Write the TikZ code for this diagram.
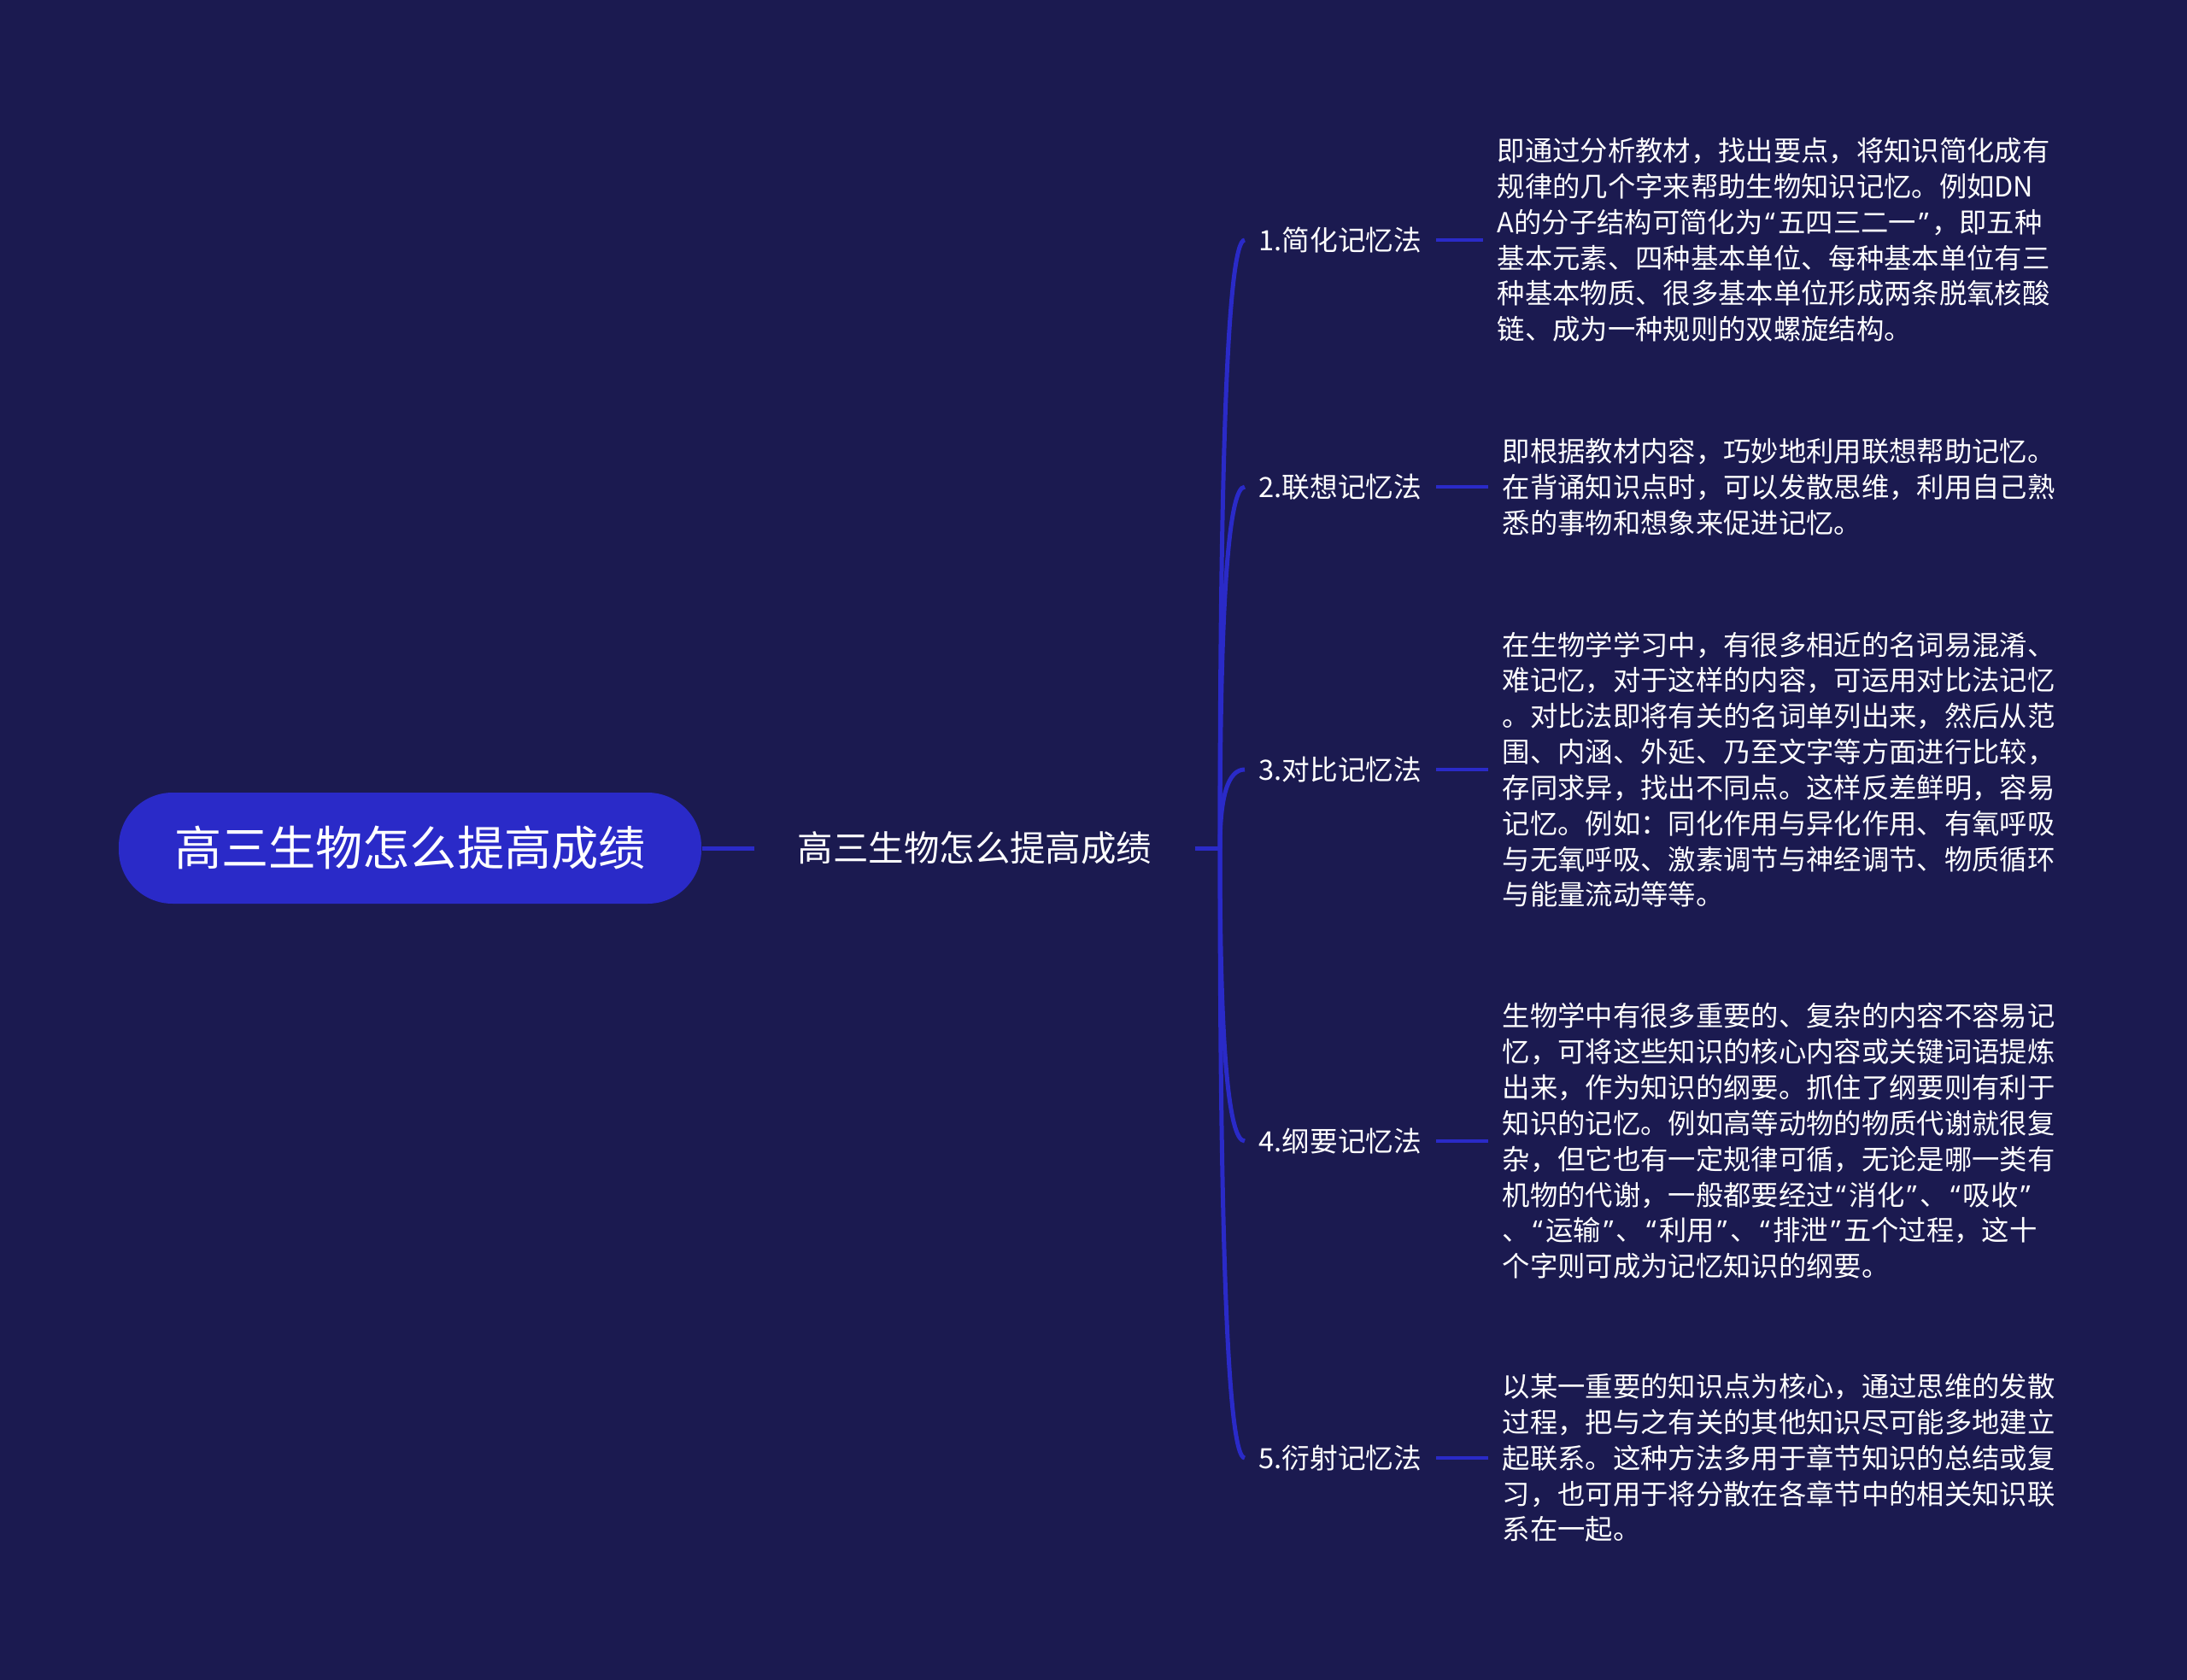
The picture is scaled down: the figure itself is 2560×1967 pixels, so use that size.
\documentclass[tikz,border=0pt]{standalone}
\usepackage{fontspec}
\setmainfont{Noto Sans CJK SC}
\newfontfamily\latinq{Noto Sans}
\newcommand{\qopen}{\kern0.1em{\latinq “}\kern0.1em}
\newcommand{\qclose}{\kern0.1em{\latinq ”}\kern0.1em}
\usepackage{tikz}
\usetikzlibrary{calc,positioning}
\definecolor{bgnavy}{RGB}{27,26,80}
\definecolor{mapblue}{RGB}{42,42,200}

\begin{document}
\begin{tikzpicture}[x=0.1mm,y=0.1mm]
\tikzstyle{every node}+=[inner sep=0pt, text=white]
\tikzstyle{rootpill}=[fill=mapblue, rounded corners=6.3mm, minimum width=68.2mm, minimum height=13mm, font=\fontsize{15.7pt}{18pt}\selectfont]
\tikzstyle{topicnode}=[inner xsep=5mm, font=\fontsize{11.8pt}{14pt}\selectfont]
\tikzstyle{methodnode}=[anchor=west, inner xsep=1.6mm, font=\fontsize{9.3pt}{11pt}\selectfont]
\tikzstyle{descnode}=[anchor=west, inner xsep=1.6mm, align=left, font=\fontsize{9.2pt}{11.9pt}\selectfont]
\tikzstyle{branch}=[draw=mapblue, line width=0.5mm]
\tikzstyle{twig}=[draw=mapblue, line width=0.4mm]
\fill [bgnavy] (0,0) rectangle (2560,-1967);
\useasboundingbox (0,0) rectangle (2560,-1967);
\node [rootpill] (root) at (480,-993) {高三生物怎么提高成绩};
\node [topicnode] (topic) at (1141,-993) {高三生物怎么提高成绩};
\coordinate (hub) at (1428,-993);
\node [methodnode] (m1) at (1457,-281) {1.简化记忆法};
\node [methodnode] (m2) at (1457,-570) {2.联想记忆法};
\node [methodnode] (m3) at (1457,-901) {3.对比记忆法};
\node [methodnode] (m4) at (1457,-1336) {4.纲要记忆法};
\node [methodnode] (m5) at (1457,-1707) {5.衍射记忆法};
\node [descnode] (d1) at (1736,-281) {即通过分析教材，找出要点，将知识简化成有\\规律的几个字来帮助生物知识记忆。例如DN\\A的分子结构可简化为\qopen 五四三二一\qclose ，即五种\\基本元素、四种基本单位、每种基本单位有三\\种基本物质、很多基本单位形成两条脱氧核酸\\链、成为一种规则的双螺旋结构。};
\node [descnode] (d2) at (1742,-570) {即根据教材内容，巧妙地利用联想帮助记忆。\\在背诵知识点时，可以发散思维，利用自己熟\\悉的事物和想象来促进记忆。};
\node [descnode] (d3) at (1742,-901) {在生物学学习中，有很多相近的名词易混淆、\\难记忆，对于这样的内容，可运用对比法记忆\\。对比法即将有关的名词单列出来，然后从范\\围、内涵、外延、乃至文字等方面进行比较，\\存同求异，找出不同点。这样反差鲜明，容易\\记忆。例如：同化作用与异化作用、有氧呼吸\\与无氧呼吸、激素调节与神经调节、物质循环\\与能量流动等等。};
\node [descnode] (d4) at (1742,-1336) {生物学中有很多重要的、复杂的内容不容易记\\忆，可将这些知识的核心内容或关键词语提炼\\出来，作为知识的纲要。抓住了纲要则有利于\\知识的记忆。例如高等动物的物质代谢就很复\\杂，但它也有一定规律可循，无论是哪一类有\\机物的代谢，一般都要经过\qopen 消化\qclose 、\qopen 吸收\qclose\\、\qopen 运输\qclose 、\qopen 利用\qclose 、\qopen 排泄\qclose 五个过程，这十\\个字则可成为记忆知识的纲要。};
\node [descnode] (d5) at (1742,-1707) {以某一重要的知识点为核心，通过思维的发散\\过程，把与之有关的其他知识尽可能多地建立\\起联系。这种方法多用于章节知识的总结或复\\习，也可用于将分散在各章节中的相关知识联\\系在一起。};
\draw [branch] (root.east) -- (topic.west);
\draw [branch] (topic.east) -- (hub);
\draw [branch] (hub) .. controls ($(hub)!.667!(hub|-m1.west)$) and ($(m1.west)!.667!(hub|-m1.west)$) .. (m1.west);
\draw [branch] (hub) .. controls ($(hub)!.667!(hub|-m2.west)$) and ($(m2.west)!.667!(hub|-m2.west)$) .. (m2.west);
\draw [branch] (hub) .. controls ($(hub)!.667!(hub|-m3.west)$) and ($(m3.west)!.667!(hub|-m3.west)$) .. (m3.west);
\draw [branch] (hub) .. controls ($(hub)!.667!(hub|-m4.west)$) and ($(m4.west)!.667!(hub|-m4.west)$) .. (m4.west);
\draw [branch] (hub) .. controls ($(hub)!.667!(hub|-m5.west)$) and ($(m5.west)!.667!(hub|-m5.west)$) .. (m5.west);
\draw [twig] (m1.east) -- (d1.west);
\draw [twig] (m2.east) -- (d2.west);
\draw [twig] (m3.east) -- (d3.west);
\draw [twig] (m4.east) -- (d4.west);
\draw [twig] (m5.east) -- (d5.west);
\end{tikzpicture}
\end{document}
